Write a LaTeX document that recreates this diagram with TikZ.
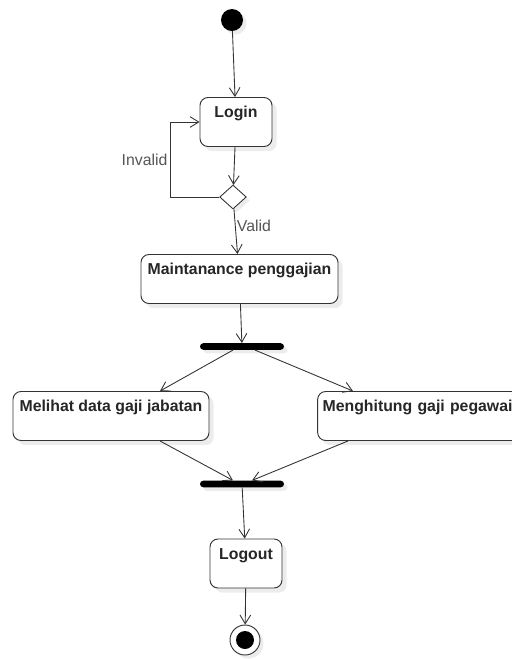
\documentclass[tikz,border=0pt]{standalone}
\usepackage{fontspec}
\setmainfont{Liberation Sans}
\usetikzlibrary{arrows.meta,shapes.geometric,shadows}
\definecolor{linegray}{HTML}{333333}
\definecolor{labelgray}{HTML}{555555}
\begin{document}
\begin{tikzpicture}[x=0.03cm,y=-0.03cm,
  flow/.style={draw=linegray, line width=0.75pt, -{Straight Barb[length=2.6mm,width=3.2mm]}},
  action/.style={draw=linegray, line width=0.8pt, fill=white, rounded corners=2.4mm, inner sep=0pt,
    text height=0.6cm, text depth=0.87cm, font=\fontsize{13.5}{16}\selectfont\bfseries, text=black!85,
    drop shadow={shadow xshift=4pt, shadow yshift=-4pt, opacity=0.15}},
  bar/.style={fill=black, rounded corners=1mm, minimum width=2.52cm, minimum height=0.2cm, inner sep=0pt,
    drop shadow={shadow xshift=3pt, shadow yshift=-3pt, opacity=0.15}},
  guard/.style={font=\fontsize{13.5}{16}\selectfont, text=labelgray}]
\useasboundingbox (0,0) rectangle (512,659);
\node[circle, fill=black, minimum size=0.66cm, inner sep=0pt,
  drop shadow={shadow xshift=3pt, shadow yshift=-3pt, opacity=0.15}] (start) at (232,20) {};
\node[action, minimum width=2.16cm] (login) at (236,122) {Login};
\node[diamond, draw=linegray, line width=0.75pt, fill=white, minimum width=0.8cm, minimum height=0.72cm, inner sep=0pt,
  drop shadow={shadow xshift=3pt, shadow yshift=-3pt, opacity=0.15}] (dec) at (233,197) {};
\node[action, minimum width=5.91cm] (maint) at (239.5,279) {Maintanance penggajian};
\node[bar] (fork) at (242,346.5) {};
\node[action, minimum width=5.88cm] (melihat) at (111,416) {Melihat data gaji jabatan};
\node[action, inner xsep=0.15cm, text width=5.9cm, align=left] (menghitung) at (421,416) {Menghitung gaji pegawai};
\node[bar] (join) at (242,484) {};
\node[action, minimum width=2.16cm] (logout) at (246,563.5) {Logout};
\node[circle, draw=linegray, line width=0.8pt, fill=white, minimum size=0.9cm, inner sep=0pt,
  drop shadow={shadow xshift=3pt, shadow yshift=-3pt, opacity=0.15}] (end) at (245,640) {};
\node[circle, fill=black, minimum size=0.54cm, inner sep=0pt] (endin) at (end) {};
\draw[flow] (start) -- (login);
\draw[flow] (login) -- (dec);
\draw[flow] (dec.west) -- ++(-49,0) |- node[guard, pos=0.25, left, inner sep=2pt] {Invalid} (login.west);
\draw[flow] (dec) -- node[guard, pos=0.38, right, inner sep=1pt] {Valid} (maint);
\draw[flow] (maint) -- (fork);
\draw[flow] ([xshift=-0.27cm]fork.south) -- ([xshift=1.47cm]melihat.north);
\draw[flow] ([xshift=0.39cm]fork.south) -- ([xshift=-2.04cm]menghitung.north);
\draw[flow] ([xshift=1.47cm]melihat.south) -- ([xshift=-0.27cm]join.north);
\draw[flow] ([xshift=-2.19cm]menghitung.south) -- ([xshift=0.3cm]join.north);
\draw[flow] (join) -- (logout);
\draw[flow] (logout) -- (end);
\end{tikzpicture}
\end{document}
